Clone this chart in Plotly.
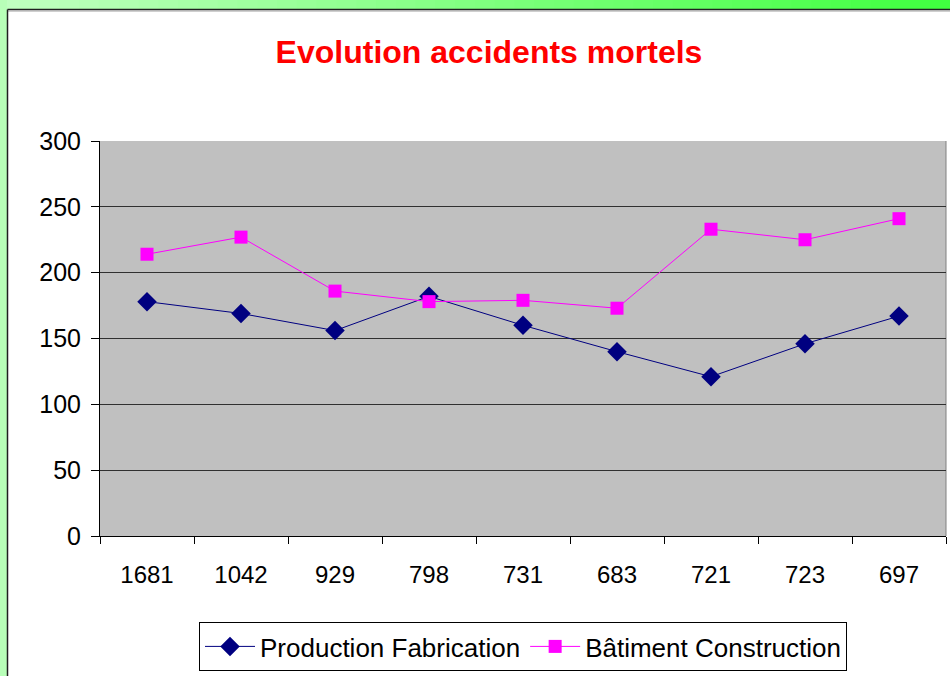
import plotly.graph_objects as go

categories = ["1681", "1042", "929", "798", "731", "683", "721", "723", "697"]
production = [178, 169, 156, 182, 160, 140, 121, 146, 167]
batiment = [214, 227, 186, 178, 179, 173, 233, 225, 241]
y_ticks = [0, 50, 100, 150, 200, 250, 300]

W, H = 950, 676
L, R, T, B = 100, 4, 141, 140
PW, PH = W - L - R, H - T - B

def px(x):
    return (x - L) / PW

def py(y):
    return (H - B - y) / PH

FONT = "Liberation Sans, Arial, sans-serif"

fig = go.Figure()
fig.add_trace(go.Scatter(
    x=categories, y=production, name="Production Fabrication",
    mode="lines+markers",
    line=dict(color="#000080", width=1),
    marker=dict(symbol="diamond", size=15, color="#000080"),
))
fig.add_trace(go.Scatter(
    x=categories, y=batiment, name="Bâtiment Construction",
    mode="lines+markers",
    line=dict(color="#ff00ff", width=1),
    marker=dict(symbol="square", size=13, color="#ff00ff"),
))

shapes = []
# top gradient strip
n = 48
c0 = (0xc0, 0xff, 0xc0)
c1 = (0x40, 0xff, 0x40)
for i in range(n):
    t = i / (n - 1)
    col = "rgb(%d,%d,%d)" % tuple(round(a + (b - a) * t) for a, b in zip(c0, c1))
    x0 = W * i / n
    x1 = W * (i + 1) / n + 1
    shapes.append(dict(type="rect", xref="paper", yref="paper",
                       x0=px(x0), x1=px(x1), y0=py(-1), y1=py(9.5),
                       fillcolor=col, line=dict(width=0), layer="above"))
# left strip
shapes.append(dict(type="rect", xref="paper", yref="paper",
                   x0=px(-1), x1=px(7), y0=py(-1), y1=py(H + 1),
                   fillcolor="#b8ffb8", line=dict(width=0), layer="above"))
# dark border lines
shapes.append(dict(type="line", xref="paper", yref="paper",
                   x0=px(7.5), x1=px(W), y0=py(9.5), y1=py(9.5),
                   line=dict(color="#202020", width=1.5), layer="above"))
shapes.append(dict(type="line", xref="paper", yref="paper",
                   x0=px(8), x1=px(W), y0=py(11), y1=py(11),
                   line=dict(color="#a0a0a0", width=1), layer="above"))
shapes.append(dict(type="line", xref="paper", yref="paper",
                   x0=px(7.5), x1=px(7.5), y0=py(9.5), y1=py(H),
                   line=dict(color="#202020", width=1.5), layer="above"))
# right border of plot area
shapes.append(dict(type="line", xref="paper", yref="paper",
                   x0=1, x1=1, y0=0, y1=1,
                   line=dict(color="#808080", width=1), layer="below"))

fig.update_layout(
    width=W, height=H,
    margin=dict(l=L, r=R, t=T, b=B, autoexpand=False),
    paper_bgcolor="white",
    plot_bgcolor="#c0c0c0",
    font=dict(family=FONT, color="black"),
    title=dict(text="<b>Evolution accidents mortels</b>",
               font=dict(family=FONT, size=32, color="#ff0000"),
               x=489 / W, xanchor="center", y=1 - 52 / H, yanchor="middle"),
    showlegend=True,
    legend=dict(orientation="h", x=0.5, xanchor="center",
                y=py(622), yanchor="top",
                bordercolor="black", borderwidth=1, bgcolor="white",
                font=dict(family=FONT, size=26, color="black"),
                itemwidth=50, traceorder="normal"),
    shapes=shapes,
)
fig.update_xaxes(
    type="category", range=[-0.5, 8.5],
    showline=True, linecolor="black", linewidth=1,
    ticks="outside", tickson="boundaries", ticklen=7, tickcolor="black",
    showgrid=False, zeroline=False,
    tickfont=dict(family=FONT, size=24, color="black"),
    ticklabelstandoff=17,
)
fig.update_yaxes(
    range=[0, 300], tickvals=y_ticks,
    showline=True, linecolor="black", linewidth=1,
    ticks="outside", ticklen=8, tickcolor="black",
    showgrid=True, gridcolor="#303030", gridwidth=1, zeroline=False,
    tickfont=dict(family=FONT, size=25, color="black"),
    ticklabelstandoff=5,
)

fig.write_html("out.html",
               config={"displayModeBar": False},
               post_script="document.body.style.margin='0';document.body.style.padding='0';")
